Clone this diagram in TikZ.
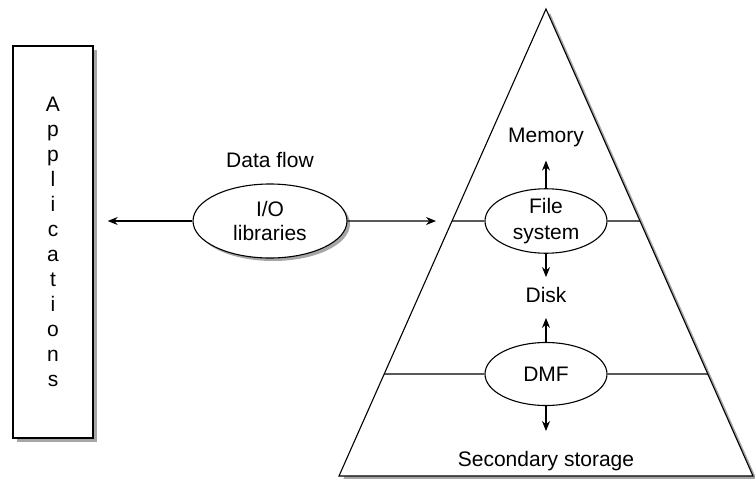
\documentclass[tikz,border=0pt]{standalone}
\usepackage{fontspec}
\setmainfont{Liberation Sans}
\usetikzlibrary{shapes.geometric,arrows.meta,calc,shadows}
\begin{document}
\begin{tikzpicture}[x=1pt,y=-1pt,
  every node/.style={font=\fontsize{21}{24}\selectfont, inner sep=0pt},
  thin line/.style={line width=1.1pt, draw=black},
  arr/.style={line width=1.1pt, draw=black, -{Stealth[length=10pt,width=8pt]}},
  shade/.style={drop shadow={shadow xshift=4pt, shadow yshift=-4pt, fill=black!35, opacity=1}},
  oval/.style={ellipse, draw, line width=1.1pt, fill=white, inner sep=0pt, align=center},
  lbl/.style={align=center}
]
\useasboundingbox (0,0) rectangle (755,479);

% Applications box
\node[draw, line width=1.4pt, fill=white, shade, minimum width=80pt, minimum height=392pt,
      align=center, font=\fontsize{21}{25}\selectfont] (apps) at (53,242)
  {A\\p\\p\\l\\i\\c\\a\\t\\i\\o\\n\\s};

% Pyramid
\coordinate (apex) at (546,9);
\coordinate (bl) at (339,476);
\coordinate (br) at (753,476);
\path[thin line, fill=white, shade] (apex) -- (bl) -- (br) -- cycle;

\coordinate (fsL) at ($(apex)!0.454!(bl)$);
\coordinate (fsR) at ($(apex)!0.454!(br)$);
\coordinate (dmL) at ($(apex)!0.7816!(bl)$);
\coordinate (dmR) at ($(apex)!0.7816!(br)$);

\node[oval, minimum width=122pt, minimum height=64pt, font=\fontsize{21}{26}\selectfont] (fs) at (546,221) {File\\system};
\node[oval, minimum width=122pt, minimum height=63pt] (dmf) at (546,374) {DMF};

\draw[thin line] (fsL) -- (fs.west);
\draw[thin line] (fs.east) -- (fsR);
\draw[thin line] (dmL) -- (dmf.west);
\draw[thin line] (dmf.east) -- (dmR);

\node[lbl] (mem) at (546,137) {Memory};
\node[lbl] (disk) at (546,295) {Disk};
\node[lbl] (sec) at (546,461) {Secondary storage};

\draw[arr, shorten >=14pt] (fs.north) -- (mem.south);
\draw[arr, shorten >=10pt] (fs.south) -- (disk.north);
\draw[arr, shorten >=15pt] (dmf.north) -- (disk.south);
\draw[arr, shorten >=20pt] (dmf.south) -- (sec.north);

% I/O libraries
\node[oval, minimum width=154pt, minimum height=74pt, drop shadow={shadow xshift=3pt, shadow yshift=-3pt, fill=black!35, opacity=1}] (io) at (270,221) {I/O\\libraries};
\node[lbl] (df) at (270,160) {Data flow};

\draw[arr, shorten >=14pt] (io.west) -- (apps.east |- io.west);
\draw[arr, shorten >=16pt] (io.east) -- (fsL);
\end{tikzpicture}
\end{document}
